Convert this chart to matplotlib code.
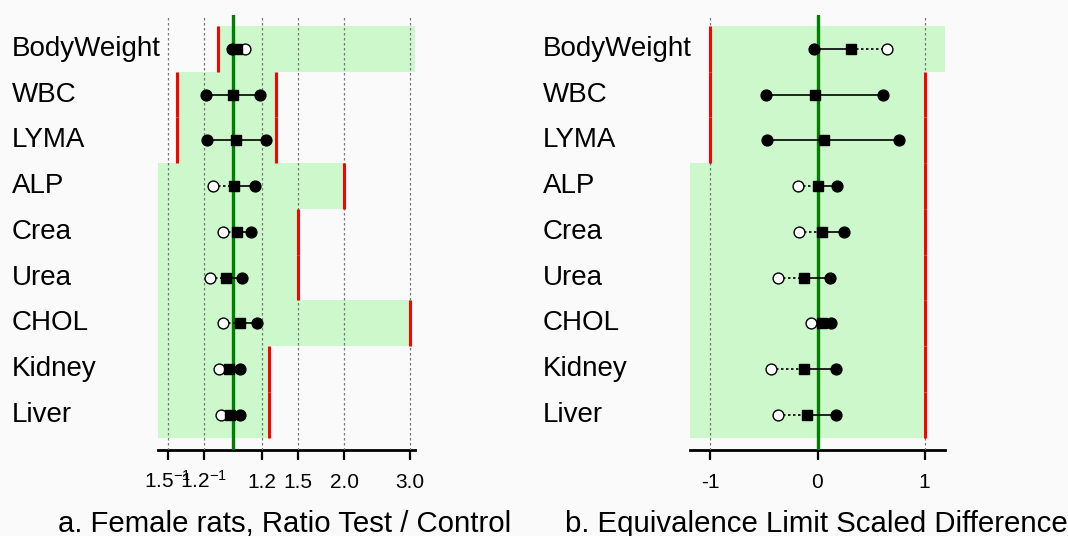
import matplotlib
matplotlib.use('Agg')
import matplotlib.pyplot as plt
from matplotlib.transforms import blended_transform_factory

plt.rcParams['font.family'] = ['Liberation Sans', 'DejaVu Sans']
plt.rcParams['mathtext.fontset'] = 'custom'
plt.rcParams['mathtext.rm'] = 'Liberation Sans'
plt.rcParams['mathtext.it'] = 'Liberation Sans:italic'
plt.rcParams['axes.unicode_minus'] = False

endpoints = ['BodyWeight', 'WBC', 'LYMA', 'ALP', 'Crea', 'Urea', 'CHOL', 'Kidney', 'Liver']

# a. ratio test / control (log scale)
ratio_lo = [0.994, 0.846, 0.849, 0.885, 0.942, 0.865, 0.942, 0.915, 0.926]
ratio_est = [1.025, 1.000, 1.019, 1.008, 1.023, 0.957, 1.044, 0.975, 0.983]
ratio_hi = [1.077, 1.183, 1.226, 1.144, 1.116, 1.056, 1.163, 1.044, 1.044]
ratio_lim_lo = [0.909, 0.705, 0.705, None, None, None, None, None, None]
ratio_lim_hi = [None, 1.305, 1.305, 2.0, 1.5, 1.5, 3.0, 1.25, 1.25]

# b. equivalence limit scaled difference
scaled_lo = [-0.03, -0.48, -0.47, -0.18, -0.17, -0.37, -0.06, -0.43, -0.37]
scaled_est = [0.31, -0.02, 0.056, 0.0, 0.044, -0.127, 0.04, -0.13, -0.10]
scaled_hi = [0.65, 0.61, 0.76, 0.18, 0.25, 0.12, 0.13, 0.17, 0.17]
scaled_lim_lo = [-1, -1, -1, None, None, None, None, None, None]
scaled_lim_hi = [None, 1, 1, 1, 1, 1, 1, 1, 1]

# hollow end points (dotted segment) vs filled
lo_open = [False, False, False, True, True, True, True, True, True]
hi_open = [True, False, False, False, False, False, False, False, False]

ratio_ticks = [1 / 1.5, 1 / 1.2, 1.2, 1.5, 2.0, 3.0]
ratio_ticklabels = ['1.5$^{-1}$', '1.2$^{-1}$', '1.2', '1.5', '2.0', '3.0']
scaled_ticks = [-1, 0, 1]
scaled_ticklabels = ['-1', '0', '1']

W, H = 1068, 536
bg = '#fafafa'
band = '#ccf8cc'

fig = plt.figure(figsize=(W / 100, H / 100), dpi=100, facecolor=bg)
ax_a = fig.add_axes([158 / W, 1 - 450 / H, 257 / W, 435 / H])
ax_b = fig.add_axes([690 / W, 1 - 450 / H, 255 / W, 435 / H])


def draw_panel(ax, lo, est, hi, lim_lo, lim_hi, ref, xlim, ticks, ticklabels, log, label_x, title, title_x):
    if log:
        ax.set_xscale('log')
    ax.set_xlim(xlim)
    n = len(endpoints)
    ax.set_ylim(n - 0.5 + 0.27, -0.74)
    ax.set_facecolor('none')
    for i in range(n):
        a = lim_lo[i] if lim_lo[i] is not None else xlim[0]
        b = lim_hi[i] if lim_hi[i] is not None else xlim[1]
        ax.fill_betweenx([i - 0.5, i + 0.5], a, b, color=band, lw=0, zorder=1)
        for lim in (lim_lo[i], lim_hi[i]):
            if lim is not None:
                ax.plot([lim, lim], [i - 0.5, i + 0.5], color='red', lw=2.2,
                        solid_capstyle='butt', zorder=3)
        # segments
        ax.plot([lo[i], est[i]], [i, i], color='black', lw=1.2,
                ls=(0, (1.5, 1.5)) if lo_open[i] else '-', zorder=5)
        ax.plot([est[i], hi[i]], [i, i], color='black', lw=1.2,
                ls=(0, (1.5, 1.5)) if hi_open[i] else '-', zorder=5)
        for v, op in ((lo[i], lo_open[i]), (hi[i], hi_open[i])):
            ax.plot(v, i, 'o', ms=7.8, mec='black', mew=1,
                    mfc='white' if op else 'black', zorder=6)
        ax.plot(est[i], i, 's', ms=7.5, color='black', zorder=7)
    ax.axvline(ref, color='green', lw=2.4, zorder=4)

    ax.set_xticks(ticks)
    ax.set_xticklabels(ticklabels)
    ax.minorticks_off()
    ax.set_yticks([])
    ax.set_axisbelow(False)
    ax.grid(axis='x', color='#777777', lw=0.9, ls=(0, (2, 2)))
    for s in ('top', 'left', 'right'):
        ax.spines[s].set_visible(False)
    ax.spines['bottom'].set_linewidth(2)
    ax.tick_params(axis='x', length=7, width=1.6, labelsize=15, pad=20.5)
    for t in ax.get_xticklabels():
        t.set_va('baseline')

    tr = blended_transform_factory(fig.transFigure, ax.transData)
    for i, name in enumerate(endpoints):
        ax.text(label_x / W, i, name, transform=tr, fontsize=20,
                ha='left', va='center')
    fig.text(title_x / W, 1 - 532 / H, title, fontsize=21.2, ha='left', va='baseline')


draw_panel(ax_a, ratio_lo, ratio_est, ratio_hi, ratio_lim_lo, ratio_lim_hi, 1.0,
           (0.628, 3.10), ratio_ticks, ratio_ticklabels, True, 12,
           'a. Female rats, Ratio Test / Control', 58)
draw_panel(ax_b, scaled_lo, scaled_est, scaled_hi, scaled_lim_lo, scaled_lim_hi, 0.0,
           (-1.19, 1.19), scaled_ticks, scaled_ticklabels, False, 543,
           'b. Equivalence Limit Scaled Difference', 565)

fig.savefig('out.png', dpi=100, facecolor=bg)
